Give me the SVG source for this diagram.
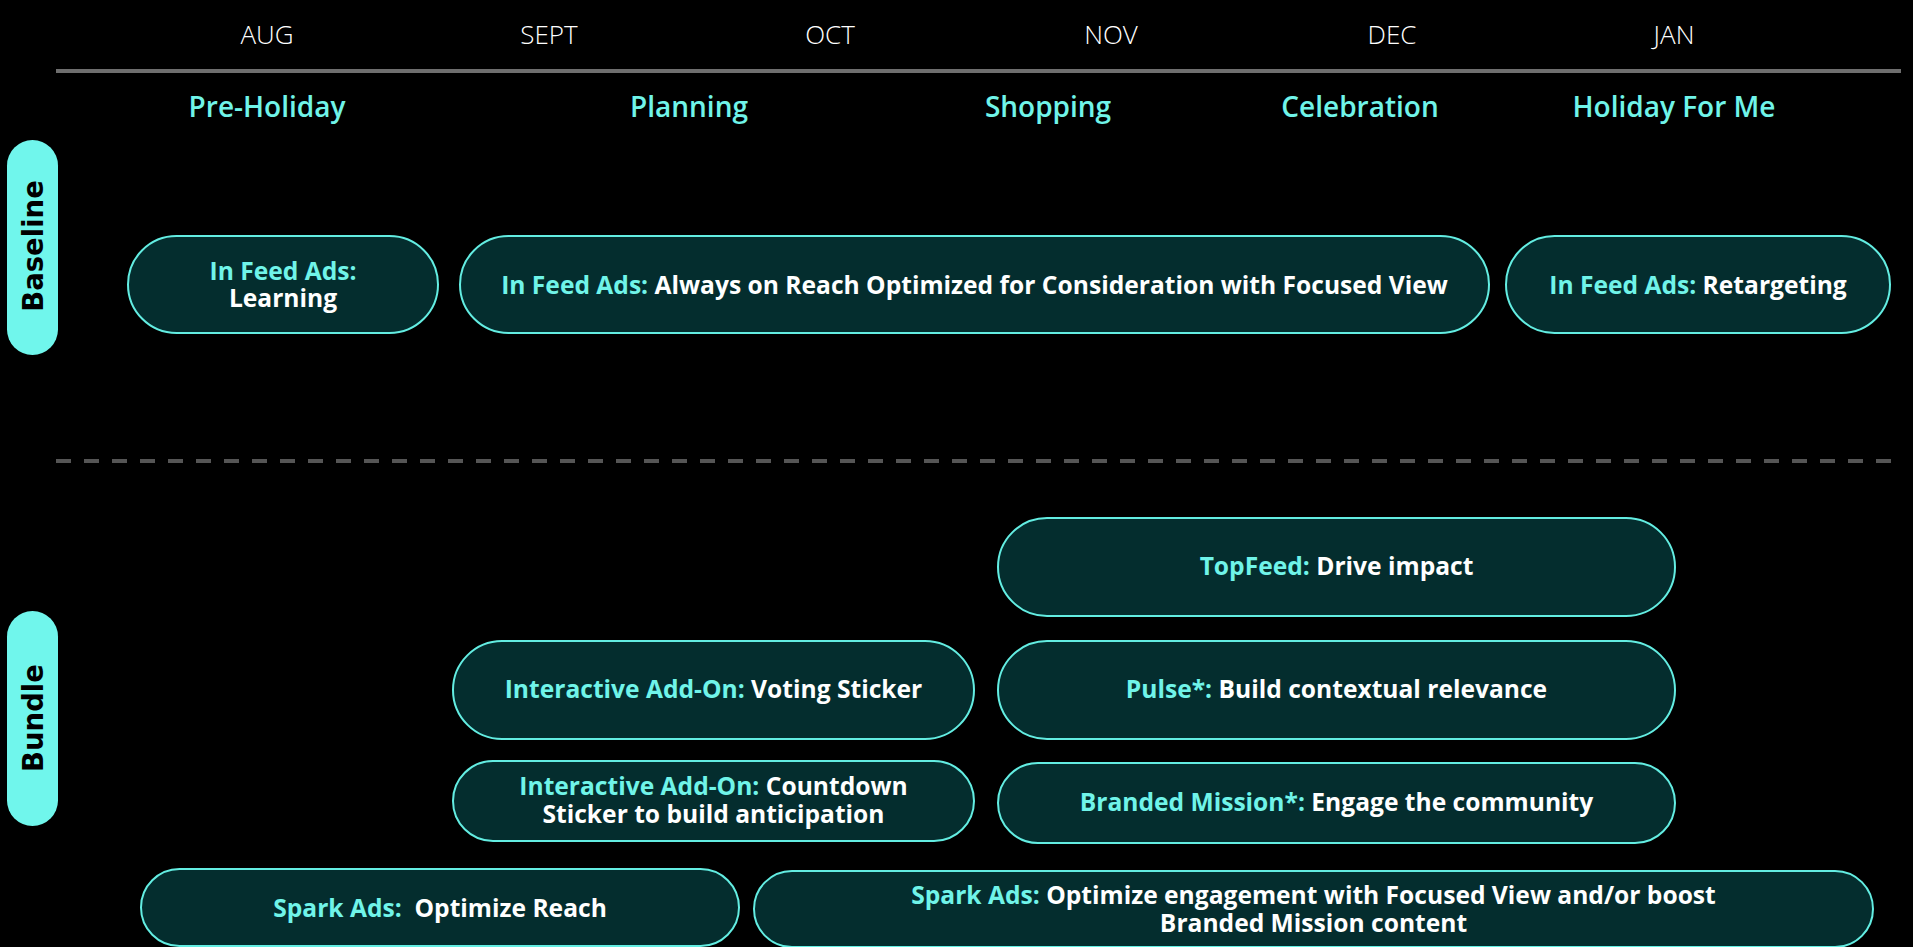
<svg xmlns="http://www.w3.org/2000/svg" width="1913" height="947" viewBox="0 0 1913 947">
<style>
.bg{fill:#000}
.month{font-family:"Open Sans","Liberation Sans",sans-serif;font-weight:300;font-size:26px;fill:#fff;text-anchor:middle}
.phase{font-family:"Open Sans","Liberation Sans",sans-serif;font-weight:600;font-size:28px;fill:#70F4E9;text-anchor:middle}
.lane rect{fill:#70F6EC}
.lane text{font-family:"DejaVu Sans","Liberation Sans",sans-serif;font-weight:700;font-size:27.5px;fill:#000;text-anchor:middle}
.node rect{fill:#042D2E;stroke:#63EDE2;stroke-width:2}
.node text{font-family:"Open Sans","Liberation Sans",sans-serif;font-weight:700;font-size:24.6px;fill:#fff;text-anchor:middle;white-space:pre}
.k{fill:#70F4E9}
</style>
<rect class="bg" x="0" y="0" width="1913" height="947"/>
<g id="months">
<text class="month" x="267" y="44">AUG</text>
<text class="month" x="549" y="44">SEPT</text>
<text class="month" x="830" y="44">OCT</text>
<text class="month" x="1111" y="44">NOV</text>
<text class="month" x="1392" y="44">DEC</text>
<text class="month" x="1674" y="44">JAN</text>
</g>
<g id="phases">
<text class="phase" x="267" y="117">Pre-Holiday</text>
<text class="phase" x="689" y="117">Planning</text>
<text class="phase" x="1048" y="117">Shopping</text>
<text class="phase" x="1360" y="117">Celebration</text>
<text class="phase" x="1674" y="117">Holiday For Me</text>
</g>
<g id="connectors">
<line x1="56" y1="71" x2="1901" y2="71" stroke="#6E6E6E" stroke-width="4"/>
<line x1="56" y1="461" x2="1893" y2="461" stroke="#555555" stroke-width="4" stroke-dasharray="15 13"/>
</g>
<g id="lane-baseline" class="lane">
<rect x="7" y="140" width="51" height="215" rx="25.5"/>
<text transform="translate(43,246) rotate(-90)">Baseline</text>
</g>
<g id="lane-bundle" class="lane">
<rect x="7" y="611" width="51" height="215" rx="25.5"/>
<text transform="translate(43,718) rotate(-90)">Bundle</text>
</g>
<g id="node-ifa-learning" class="node">
<rect x="128" y="236" width="310" height="97" rx="48.5"/>
<text x="283" y="280"><tspan class="k">In Feed Ads:</tspan><tspan x="283" y="307">Learning</tspan></text>
</g>
<g id="node-ifa-always" class="node">
<rect x="460" y="236" width="1029" height="97" rx="48.5"/>
<text x="974.5" y="294"><tspan class="k">In Feed Ads:</tspan> Always on Reach Optimized for Consideration with Focused View</text>
</g>
<g id="node-ifa-retarget" class="node">
<rect x="1506" y="236" width="384" height="97" rx="48.5"/>
<text x="1698" y="294"><tspan class="k">In Feed Ads:</tspan> Retargeting</text>
</g>
<g id="node-topfeed" class="node">
<rect x="998" y="518" width="677" height="98" rx="49"/>
<text x="1336.5" y="575"><tspan class="k">TopFeed:</tspan> Drive impact</text>
</g>
<g id="node-pulse" class="node">
<rect x="998" y="641" width="677" height="98" rx="49"/>
<text x="1336.5" y="698"><tspan class="k">Pulse*:</tspan> Build contextual relevance</text>
</g>
<g id="node-branded" class="node">
<rect x="998" y="763" width="677" height="80" rx="40"/>
<text x="1336.5" y="811"><tspan class="k">Branded Mission*:</tspan> Engage the community</text>
</g>
<g id="node-voting" class="node">
<rect x="453" y="641" width="521" height="98" rx="49"/>
<text x="713.5" y="698"><tspan class="k">Interactive Add-On:</tspan> Voting Sticker</text>
</g>
<g id="node-countdown" class="node">
<rect x="453" y="761" width="521" height="80" rx="40"/>
<text x="713.5" y="795"><tspan class="k">Interactive Add-On:</tspan> Countdown<tspan x="713.5" y="823">Sticker to build anticipation</tspan></text>
</g>
<g id="node-spark-reach" class="node">
<rect x="141" y="869" width="598" height="77" rx="38.5"/>
<text x="440" y="917"><tspan class="k">Spark Ads:</tspan>  Optimize Reach</text>
</g>
<g id="node-spark-engage" class="node">
<rect x="754" y="871" width="1119" height="76" rx="38"/>
<text x="1313.5" y="904"><tspan class="k">Spark Ads:</tspan> Optimize engagement with Focused View and/or boost<tspan x="1313.5" y="932">Branded Mission content</tspan></text>
</g>
</svg>
